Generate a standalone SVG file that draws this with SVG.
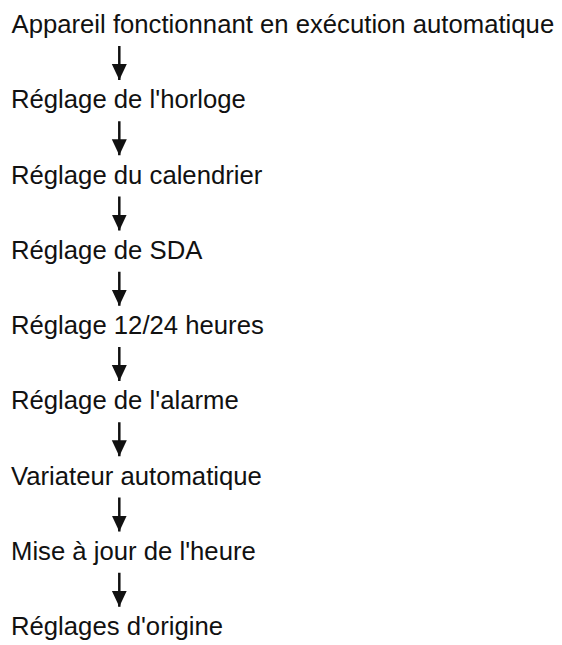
<svg xmlns="http://www.w3.org/2000/svg" width="562" height="645" viewBox="0 0 562 645">
<style>
.t{font-family:"Liberation Sans",Arial,sans-serif;font-size:25.7px;fill:#111}
.c line{stroke:#111;stroke-width:2.5}
</style>
<defs>
<marker id="ah" markerUnits="userSpaceOnUse" markerWidth="16" markerHeight="16" refX="16" refY="8" orient="auto" viewBox="0 0 16 16">
<path d="M0,0.5 L16,8 L0,15.5 z" fill="#111"/>
</marker>
</defs>
<rect width="562" height="645" fill="#fff"/>
<g id="connectors" class="c">
<line x1="119.3" y1="46" x2="119.3" y2="80" marker-end="url(#ah)"/>
<line x1="119.3" y1="121.25" x2="119.3" y2="155.25" marker-end="url(#ah)"/>
<line x1="119.3" y1="196.5" x2="119.3" y2="230.5" marker-end="url(#ah)"/>
<line x1="119.3" y1="271.75" x2="119.3" y2="305.75" marker-end="url(#ah)"/>
<line x1="119.3" y1="347" x2="119.3" y2="381" marker-end="url(#ah)"/>
<line x1="119.3" y1="422.25" x2="119.3" y2="456.25" marker-end="url(#ah)"/>
<line x1="119.3" y1="497.5" x2="119.3" y2="531.5" marker-end="url(#ah)"/>
<line x1="119.3" y1="572.75" x2="119.3" y2="606.75" marker-end="url(#ah)"/>
</g>
<g id="n1"><text class="t" x="11.5" y="33">Appareil fonctionnant en exécution automatique</text></g>
<g id="n2"><text class="t" x="11" y="108.25">Réglage de l'horloge</text></g>
<g id="n3"><text class="t" x="11" y="183.5">Réglage du calendrier</text></g>
<g id="n4"><text class="t" x="11" y="258.75">Réglage de SDA</text></g>
<g id="n5"><text class="t" x="11" y="334">Réglage 12/24 heures</text></g>
<g id="n6"><text class="t" x="11" y="409.25">Réglage de l'alarme</text></g>
<g id="n7"><text class="t" x="11" y="484.5">Variateur automatique</text></g>
<g id="n8"><text class="t" x="11" y="559.75">Mise à jour de l'heure</text></g>
<g id="n9"><text class="t" x="11" y="635">Réglages d'origine</text></g>
</svg>
